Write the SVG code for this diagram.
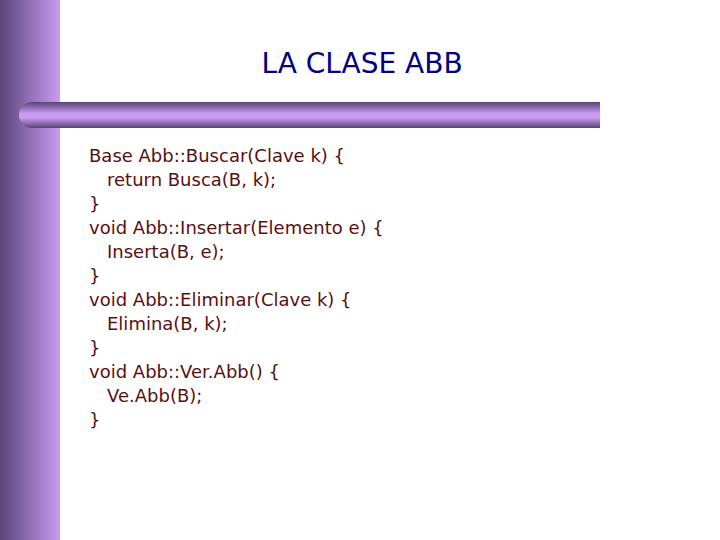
<svg xmlns="http://www.w3.org/2000/svg" width="720" height="540" viewBox="0 0 720 540">
<defs>
<linearGradient id="lg" x1="0" y1="0" x2="1" y2="0"><stop offset="0" stop-color="#5a4478"/><stop offset="1" stop-color="#c99cf2"/></linearGradient>
<linearGradient id="hg" x1="0" y1="0" x2="0" y2="1"><stop offset="0" stop-color="#5a4478"/><stop offset="0.45" stop-color="#c99cf2"/><stop offset="0.6" stop-color="#c99cf2"/><stop offset="1" stop-color="#5a4478"/></linearGradient>
<style>.c{font-family:"DejaVu Sans",sans-serif;font-size:18px;fill:#5a0f0f}</style>
</defs>
<rect width="720" height="540" fill="#fff"/>
<rect x="0" y="0" width="60" height="540" fill="url(#lg)"/>
<path d="M32,102 H600 V128 H32 A13,13 0 0 1 32,102 Z" fill="url(#hg)"/>
<text x="362" y="73" text-anchor="middle" style="font-family:'DejaVu Sans',sans-serif;font-size:28px;fill:#000080">LA CLASE ABB</text>
<g class="c">
<text class="c" x="89" y="162">Base Abb::Buscar(Clave k) {</text>
<text class="c" x="107" y="186">return Busca(B, k);</text>
<text class="c" x="89" y="210">}</text>
<text class="c" x="89" y="234">void Abb::Insertar(Elemento e) {</text>
<text class="c" x="107" y="258">Inserta(B, e);</text>
<text class="c" x="89" y="282">}</text>
<text class="c" x="89" y="306">void Abb::Eliminar(Clave k) {</text>
<text class="c" x="107" y="330">Elimina(B, k);</text>
<text class="c" x="89" y="354">}</text>
<text class="c" x="89" y="378">void Abb::Ver.Abb() {</text>
<text class="c" x="107" y="402">Ve.Abb(B);</text>
<text class="c" x="89" y="426">}</text>
</g>
</svg>
